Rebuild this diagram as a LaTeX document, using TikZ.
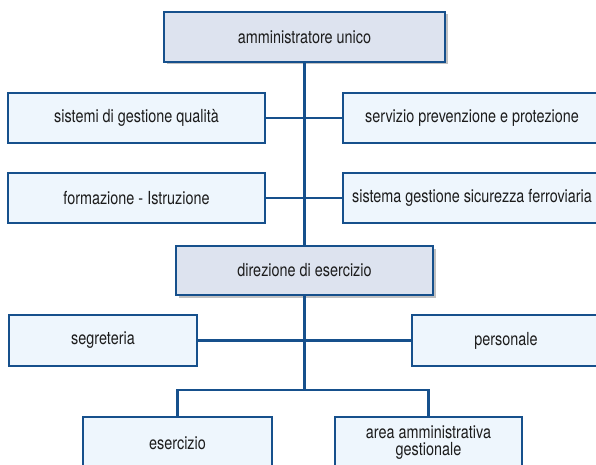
\documentclass[tikz,border=0pt]{standalone}
\usepackage{fontspec}
\setmainfont{TeX Gyre Heros}[FakeStretch=0.80]
\usetikzlibrary{shadows}
\definecolor{bordo}{HTML}{16508C}
\definecolor{fillbox}{HTML}{EEF6FD}
\definecolor{filltop}{HTML}{DDE3EF}
\definecolor{testo}{HTML}{1C1C1C}
\tikzset{
  unit/.style={draw=bordo, line width=2.6pt, fill=fillbox, text=testo,
    inner sep=0pt, font=\fontsize{18}{17}\selectfont, align=center},
  head/.style={unit, fill=filltop,
    drop shadow={shadow xshift=2.5pt, shadow yshift=-2.5pt, fill=black!35, opacity=0.7}},
  conn/.style={draw=bordo, line width=2.6pt}
}
\begin{document}
\begin{tikzpicture}[x=1pt,y=-1pt]
\useasboundingbox (0,0) rectangle (596,465);
\clip (0,0) rectangle (596,465);
% heads
\node[head, minimum width=281pt, minimum height=50pt] (au) at (304.5,37) {amministratore unico};
\node[head, minimum width=257pt, minimum height=49pt] (de) at (304.5,270.5) {direzione di esercizio};
% staff
\node[unit, minimum width=257pt, minimum height=50pt] (sgq) at (136.5,118) {sistemi di gestione qualità};
\node[unit, minimum width=257pt, minimum height=50pt] (fi) at (136.5,198) {formazione - Istruzione};
\node[unit, minimum width=258pt, minimum height=50pt] (spp) at (472,118) {servizio prevenzione e protezione};
\node[unit, minimum width=258pt, minimum height=50pt] (sgsf) at (472,198) {sistema gestione sicurezza ferroviaria};
\node[unit, minimum width=188pt, minimum height=51pt] (seg) at (103,340.5) {segreteria};
\node[unit, minimum width=188pt, minimum height=51pt] (per) at (506,340.5) {personale};
\node[unit, minimum width=189pt, minimum height=52pt] (es) at (177.5,443) {esercizio};
\node[unit, minimum width=187pt, minimum height=52pt] (aa) at (428.5,443) {area amministrativa\\gestionale};
\coordinate (bus) at (304.5,390);
% connectors
\draw[conn] (au.south) -- (de.north);
\draw[conn] (sgq.east) -- (spp.west);
\draw[conn] (fi.east) -- (sgsf.west);
\draw[conn] (seg.east) -- (per.west);
\draw[conn] (de.south) -- (bus);
\draw[conn] (es.north) |- (bus) -| (aa.north);
\end{tikzpicture}
\end{document}
